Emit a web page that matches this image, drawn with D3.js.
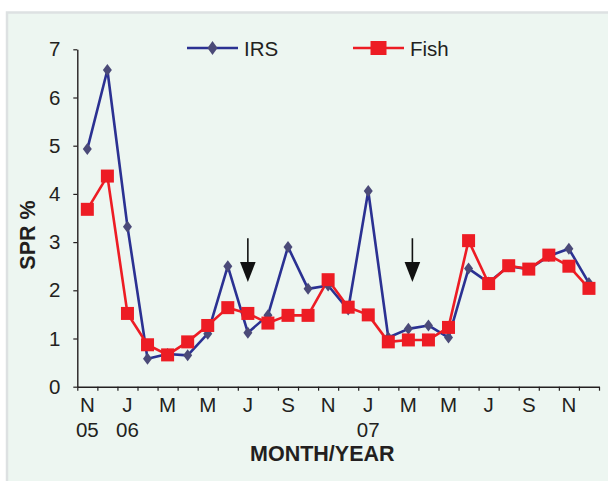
<!DOCTYPE html>
<html>
<head>
<meta charset="utf-8">
<script src="https://cdn.jsdelivr.net/npm/d3@7"></script>
<style>
  html, body { margin: 0; padding: 0; background: #fff; }
  svg { display: block; font-family: "Liberation Sans", Arial, sans-serif; }
</style>
</head>
<body>
<div id="chart"></div>
<script>
'use strict';

// Monthly categories, Nov 2005 .. Dec 2007
var months = ['Nov 05', 'Dec 05', 'Jan 06', 'Feb 06', 'Mar 06', 'Apr 06', 'May 06', 'Jun 06',
  'Jul 06', 'Aug 06', 'Sep 06', 'Oct 06', 'Nov 06', 'Dec 06', 'Jan 07', 'Feb 07', 'Mar 07',
  'Apr 07', 'May 07', 'Jun 07', 'Jul 07', 'Aug 07', 'Sep 07', 'Oct 07', 'Nov 07', 'Dec 07'];

var irs = [4.93, 6.57, 3.32, 0.58, 0.68, 0.65, 1.10, 2.50, 1.12, 1.48, 2.90, 2.03, 2.10,
  1.60, 4.06, 1.02, 1.20, 1.27, 1.02, 2.45, 2.16, 2.50, 2.44, 2.71, 2.86, 2.15];

var fish = [3.68, 4.37, 1.52, 0.87, 0.66, 0.93, 1.27, 1.64, 1.52, 1.32, 1.48, 1.48, 2.22,
  1.65, 1.49, 0.93, 0.97, 0.97, 1.23, 3.03, 2.14, 2.51, 2.44, 2.73, 2.50, 2.04];

// labels under every second month
var tickMonths = ['N', 'J', 'M', 'M', 'J', 'S', 'N', 'J', 'M', 'M', 'J', 'S', 'N'];
var tickYears = ['05', '06', '', '', '', '', '', '07', '', '', '', '', ''];
var yTicks = [0, 1, 2, 3, 4, 5, 6, 7];

// arrows (category position, from/to value)
var arrows = [{ at: 8, from: 3.08, to: 2.17 }, { at: 16.2, from: 3.08, to: 2.17 }];

var width = 608;
var height = 481;
var margin = { top: 49.3, right: 9, bottom: 94.3, left: 77.3 };
var w = width - margin.left - margin.right;
var h = height - margin.top - margin.bottom;

var ink = '#231f20';
var blue = '#2b3192';
var diamondFill = '#4b4a78';
var red = '#ed1c24';
var fontSize = '20.5px';
var titleSize = '21.5px';

var svg = d3.select('#chart').append('svg')
  .attr('width', width)
  .attr('height', height);

// background panel
svg.append('rect')
  .attr('x', 7)
  .attr('y', 12.5)
  .attr('width', width)
  .attr('height', height)
  .attr('fill', '#edf6f1')
  .attr('stroke', '#dde1e2')
  .attr('stroke-width', 2.5);

var g = svg.append('g')
  .attr('transform', 'translate(' + margin.left + ',' + margin.top + ')');

var x = d3.scaleLinear().domain([0, months.length]).range([0, w]);
var y = d3.scaleLinear().domain([0, 7]).range([h, 0]);
var cx = function(i) { return x(i + 0.5); };

// y axis
var yAxis = g.append('g')
  .call(d3.axisLeft(y).tickValues(yTicks).tickFormat(d3.format('d'))
    .tickSize(4).tickPadding(13).tickSizeOuter(0));
yAxis.select('.domain').attr('stroke', ink).attr('stroke-width', 1.4);
yAxis.selectAll('.tick line').attr('stroke', ink).attr('stroke-width', 1.2);
yAxis.selectAll('.tick text')
  .attr('fill', ink)
  .style('font-size', fontSize)
  .style('font-family', '"Liberation Sans", Arial, sans-serif');

// x axis, ticks between months
var xAxis = g.append('g')
  .attr('transform', 'translate(0,' + h + ')')
  .call(d3.axisBottom(x).tickValues(d3.range(months.length + 1)).tickSize(4)
    .tickFormat('').tickSizeOuter(0));
xAxis.select('.domain').attr('stroke', ink).attr('stroke-width', 1.4);
xAxis.selectAll('.tick line').attr('stroke', ink).attr('stroke-width', 1.2);

var labels = g.append('g')
  .attr('fill', ink)
  .style('font-size', fontSize)
  .attr('text-anchor', 'middle');

tickMonths.forEach(function(m, k) {
  labels.append('text')
    .attr('x', cx(k * 2))
    .attr('y', h + 25.5)
    .text(m);
  if (tickYears[k]) {
    labels.append('text')
      .attr('x', cx(k * 2))
      .attr('y', h + 50)
      .text(tickYears[k]);
  }
});

// axis titles
g.append('text')
  .attr('x', 245)
  .attr('y', h + 74)
  .attr('text-anchor', 'middle')
  .attr('fill', ink)
  .style('font-size', titleSize)
  .style('font-weight', 'bold')
  .text('MONTH/YEAR');

g.append('text')
  .attr('transform', 'translate(' + (34.5 - margin.left) + ',' + (235 - margin.top) + ') rotate(-90)')
  .attr('text-anchor', 'middle')
  .attr('fill', ink)
  .style('font-size', titleSize)
  .style('font-weight', 'bold')
  .text('SPR %');

// series lines
var line = d3.line()
  .x(function(d, i) { return cx(i); })
  .y(function(d) { return y(d); });

g.append('path')
  .datum(irs)
  .attr('d', line)
  .attr('fill', 'none')
  .attr('stroke', blue)
  .attr('stroke-width', 2.6)
  .attr('stroke-linejoin', 'round');

g.append('path')
  .datum(fish)
  .attr('d', line)
  .attr('fill', 'none')
  .attr('stroke', red)
  .attr('stroke-width', 2.6)
  .attr('stroke-linejoin', 'round');

var diamond = 'M0,-6L4.5,0L0,6L-4.5,0Z';

g.append('g').selectAll('path')
  .data(irs)
  .join('path')
  .attr('transform', function(d, i) { return 'translate(' + cx(i) + ',' + y(d) + ')'; })
  .attr('d', diamond)
  .attr('fill', diamondFill);

g.append('g').selectAll('rect')
  .data(fish)
  .join('rect')
  .attr('x', function(d, i) { return cx(i) - 6.5; })
  .attr('y', function(d) { return y(d) - 6.5; })
  .attr('width', 13)
  .attr('height', 13)
  .attr('fill', red);

// arrows
arrows.forEach(function(a) {
  var ax = cx(a.at);
  var top = y(a.from);
  var tip = y(a.to);
  g.append('line')
    .attr('x1', ax).attr('x2', ax)
    .attr('y1', top).attr('y2', tip - 18)
    .attr('stroke', '#111')
    .attr('stroke-width', 1.6);
  g.append('path')
    .attr('d', 'M' + (ax - 7.8) + ',' + (tip - 20) + 'L' + (ax + 7.8) + ',' + (tip - 20) + 'L' + ax + ',' + tip + 'Z')
    .attr('fill', '#111');
});

// legend
var legend = svg.append('g').style('font-size', fontSize).attr('fill', ink);
var items = [
  { name: 'IRS', color: blue, x0: 187, x1: 238, tx: 244, mark: 'diamond' },
  { name: 'Fish', color: red, x0: 353, x1: 404, tx: 410, mark: 'square' }
];
items.forEach(function(it) {
  var ly = 48;
  legend.append('line')
    .attr('x1', it.x0).attr('x2', it.x1)
    .attr('y1', ly).attr('y2', ly)
    .attr('stroke', it.color)
    .attr('stroke-width', 2.6);
  var mx = (it.x0 + it.x1) / 2;
  if (it.mark === 'diamond') {
    legend.append('path')
      .attr('transform', 'translate(' + mx + ',' + ly + ')')
      .attr('d', 'M0,-7L5,0L0,7L-5,0Z')
      .attr('fill', diamondFill);
  } else {
    legend.append('rect')
      .attr('x', mx - 8).attr('y', ly - 7)
      .attr('width', 16).attr('height', 14)
      .attr('fill', red);
  }
  legend.append('text')
    .attr('x', it.tx)
    .attr('y', ly + 7.5)
    .text(it.name);
});
</script>
</body>
</html>
